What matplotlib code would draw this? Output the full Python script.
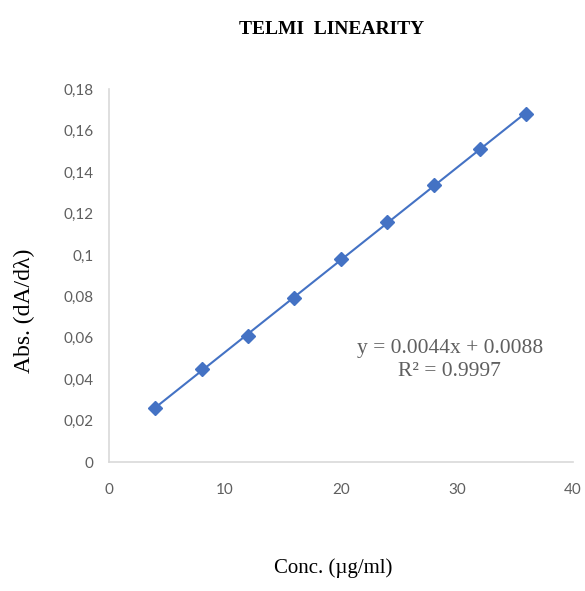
import matplotlib
matplotlib.use("Agg")
import matplotlib.pyplot as plt
from matplotlib.ticker import FuncFormatter, MultipleLocator
import numpy as np

# data
conc = [4, 8, 12, 16, 20, 24, 28, 32, 36]
absorb = [0.026, 0.045, 0.061, 0.079, 0.098, 0.116, 0.134, 0.151, 0.168]
eq_text = "y = 0.0044x + 0.0088\nR² = 0.9997"

blue = "#4472C4"
grey = "#5f5f5f"

fig = plt.figure(figsize=(5.85, 5.91), dpi=100)
ax = fig.add_axes([0.186, 0.218, 0.793, 0.631])

# trendline (linear fit) and the points
k, b = np.polyfit(conc, absorb, 1)
xs = np.array([conc[0], conc[-1]])
ax.plot(xs, k * xs + b, color=blue, lw=1.5, zorder=2)
ax.plot(conc, absorb, ls="none", marker="D", ms=7.5, color=blue, zorder=3)

ax.set_xlim(0, 40)
ax.set_ylim(0, 0.18)
ax.xaxis.set_major_locator(MultipleLocator(10))
ax.yaxis.set_major_locator(MultipleLocator(0.02))
ax.yaxis.set_major_formatter(FuncFormatter(lambda v, p: ("%g" % round(v, 3)).replace(".", ",")))

for s in ["top", "right"]:
    ax.spines[s].set_visible(False)
for s in ["left", "bottom"]:
    ax.spines[s].set_color("#D9D9D9")
    ax.spines[s].set_linewidth(1.2)
ax.tick_params(length=0, labelsize=11, labelcolor=grey)
ax.tick_params(axis="y", pad=11)
ax.tick_params(axis="x", pad=15)
for lab in ax.get_xticklabels() + ax.get_yticklabels():
    lab.set_family("Lato")

ax.text(0.735, 0.273, eq_text, transform=ax.transAxes, ha="center", va="center",
        fontsize=15.5, color=grey, family="Liberation Serif", linespacing=1.3)

fig.text(0.567, 0.95, "TELMI  LINEARITY", ha="center", va="center",
         fontsize=14, fontweight="bold", family="Liberation Serif")
fig.text(0.041, 0.474, "Abs. (dA/dλ)", rotation=90, ha="center", va="center",
         fontsize=17, family="Liberation Serif")
fig.text(0.57, 0.039, "Conc. (µg/ml)", ha="center", va="center",
         fontsize=15, family="Liberation Serif")

plt.savefig("out.png", dpi=100)
